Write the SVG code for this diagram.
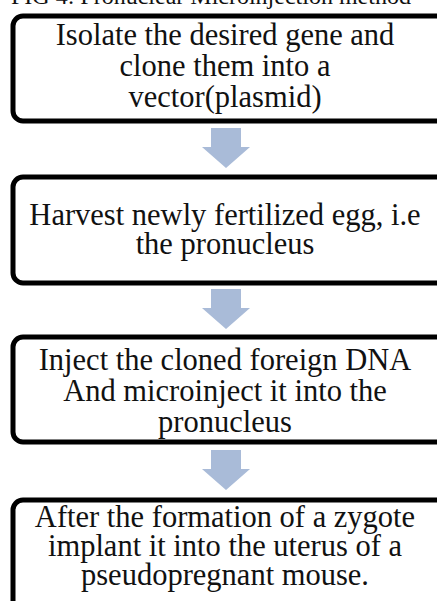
<svg xmlns="http://www.w3.org/2000/svg" xmlns:xlink="http://www.w3.org/1999/xlink" width="437" height="601" viewBox="0 0 437 601">
<style>
.box{fill:#fff;stroke:#000;stroke-width:5}
.t{font-family:"Liberation Serif","Times New Roman",serif;font-size:30.5px;fill:#111;text-anchor:middle}
.cap{font-family:"Liberation Serif","Times New Roman",serif;font-size:24px;fill:#111}
.arr{fill:#a9bbd8}
</style>
<defs>
<path id="arrow" class="arr" d="M211,0 H241 V19 H250 L226,40 L202,19 H211 Z"/>
</defs>
<rect width="437" height="601" fill="#fff"/>
<text class="cap" x="11" y="4">FIG 4: Pronuclear Microinjection method</text>
<g id="connectors">
<use xlink:href="#arrow" y="128"/>
<use xlink:href="#arrow" y="289"/>
<use xlink:href="#arrow" y="450"/>
</g>
<g id="node1">
<rect class="box" x="13" y="16" width="434" height="105" rx="10"/>
<text class="t" x="225" y="45">Isolate the desired gene and</text>
<text class="t" x="225" y="76">clone them into a</text>
<text class="t" x="225" y="107">vector(plasmid)</text>
</g>
<g id="node2">
<rect class="box" x="13" y="177" width="434" height="106" rx="10"/>
<text class="t" x="225" y="225">Harvest newly fertilized egg, i.e</text>
<text class="t" x="225" y="254">the pronucleus</text>
</g>
<g id="node3">
<rect class="box" x="13" y="337" width="434" height="105" rx="10"/>
<text class="t" x="225" y="370">Inject the cloned foreign DNA</text>
<text class="t" x="225" y="401">And microinject it into the</text>
<text class="t" x="225" y="432">pronucleus</text>
</g>
<g id="node4">
<rect class="box" x="13" y="500" width="434" height="130" rx="10"/>
<text class="t" x="225" y="527">After the formation of a zygote</text>
<text class="t" x="225" y="556">implant it into the uterus of a</text>
<text class="t" x="225" y="585">pseudopregnant mouse.</text>
</g>
</svg>
